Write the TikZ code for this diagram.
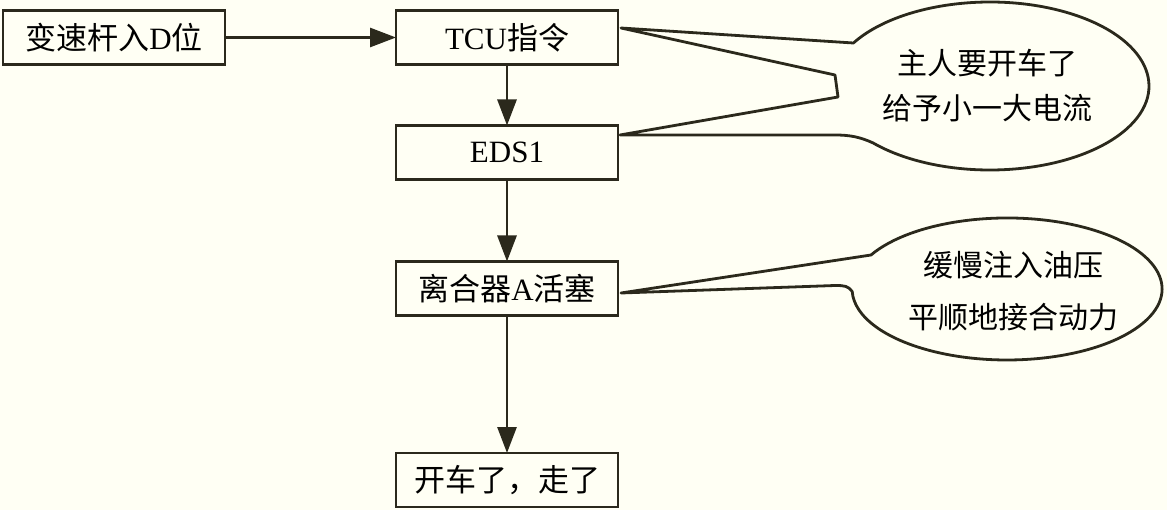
\documentclass[tikz,border=0pt]{standalone}
\usepackage{fontspec}
\setmainfont{Liberation Serif}
\newfontfamily\zh{Noto Sans CJK SC}
\usetikzlibrary{arrows.meta,calc,positioning}
\definecolor{Ink}{HTML}{2B291C}
\definecolor{Paper}{HTML}{FFFFF4}

\begin{document}
\begin{tikzpicture}[
      x=1pt, y=-1pt,
      >={Triangle[length=26pt,width=19pt]},
      box/.style={draw=Ink, line width=2.8pt, outer sep=0pt,
                  minimum width=222pt, minimum height=54pt, inner sep=0pt,
                  font=\fontsize{31}{36}\selectfont, text=black},
      note/.style={align=center, text=black, font=\zh\fontsize{30}{45}\selectfont},
      bubble/.style={draw=Ink, line width=2.8pt, line join=round},
      flow/.style={->, draw=Ink, line width=2.8pt}
    ]
      \fill[Paper] (0,0) rectangle (1167,510);
      \useasboundingbox (0,0) rectangle (1167,510);

      \node[box] (gear) at (114,37.5) {{\zh 变速杆入}D{\zh 位}};
      \node[box, right=171pt of gear] (tcu) {TCU{\zh 指令}};
      \node[box, below=61pt of tcu] (eds) {EDS1};
      \node[box, below=82pt of eds] (clutch) {{\zh 离合器}A{\zh 活塞}};
      \node[box, below=137.5pt of clutch] (go) {{\zh 开车了，走了}};

      \draw[flow] (gear) -- (tcu);
      \draw[flow] (tcu) -- (eds);
      \draw[flow] (eds) -- (clutch);
      \draw[flow] (clutch) -- (go);

      % speech bubbles
      \draw[bubble] ($(tcu.east)+(3,-9.5)$) coordinate (tip1)
        -- (853.4,43) arc[start angle=149.2, end angle=-137.3, x radius=159pt, y radius=84pt]
        .. controls (860,137) and (850,135) .. (835,135)
        -- ($(eds.east)+(2,-17.5)$) coordinate (tip2)
        -- (838,97) -- (835,75) -- cycle;
      \draw[bubble] ($(clutch.east)+(3,4.5)$) coordinate (tip3)
        -- (871,255) arc[start angle=151.4, end angle=-178, x radius=155pt, y radius=71pt]
        .. controls (848,286) and (845,285.5) .. (835,285.5) -- cycle;

      \node[note] (say1) at (987,86) {主人要开车了\\给予小一大电流};
      \node[note, font=\zh\fontsize{30}{52}\selectfont] (say2) at (1013,291) {缓慢注入油压\\平顺地接合动力};
    \end{tikzpicture}
\end{document}
